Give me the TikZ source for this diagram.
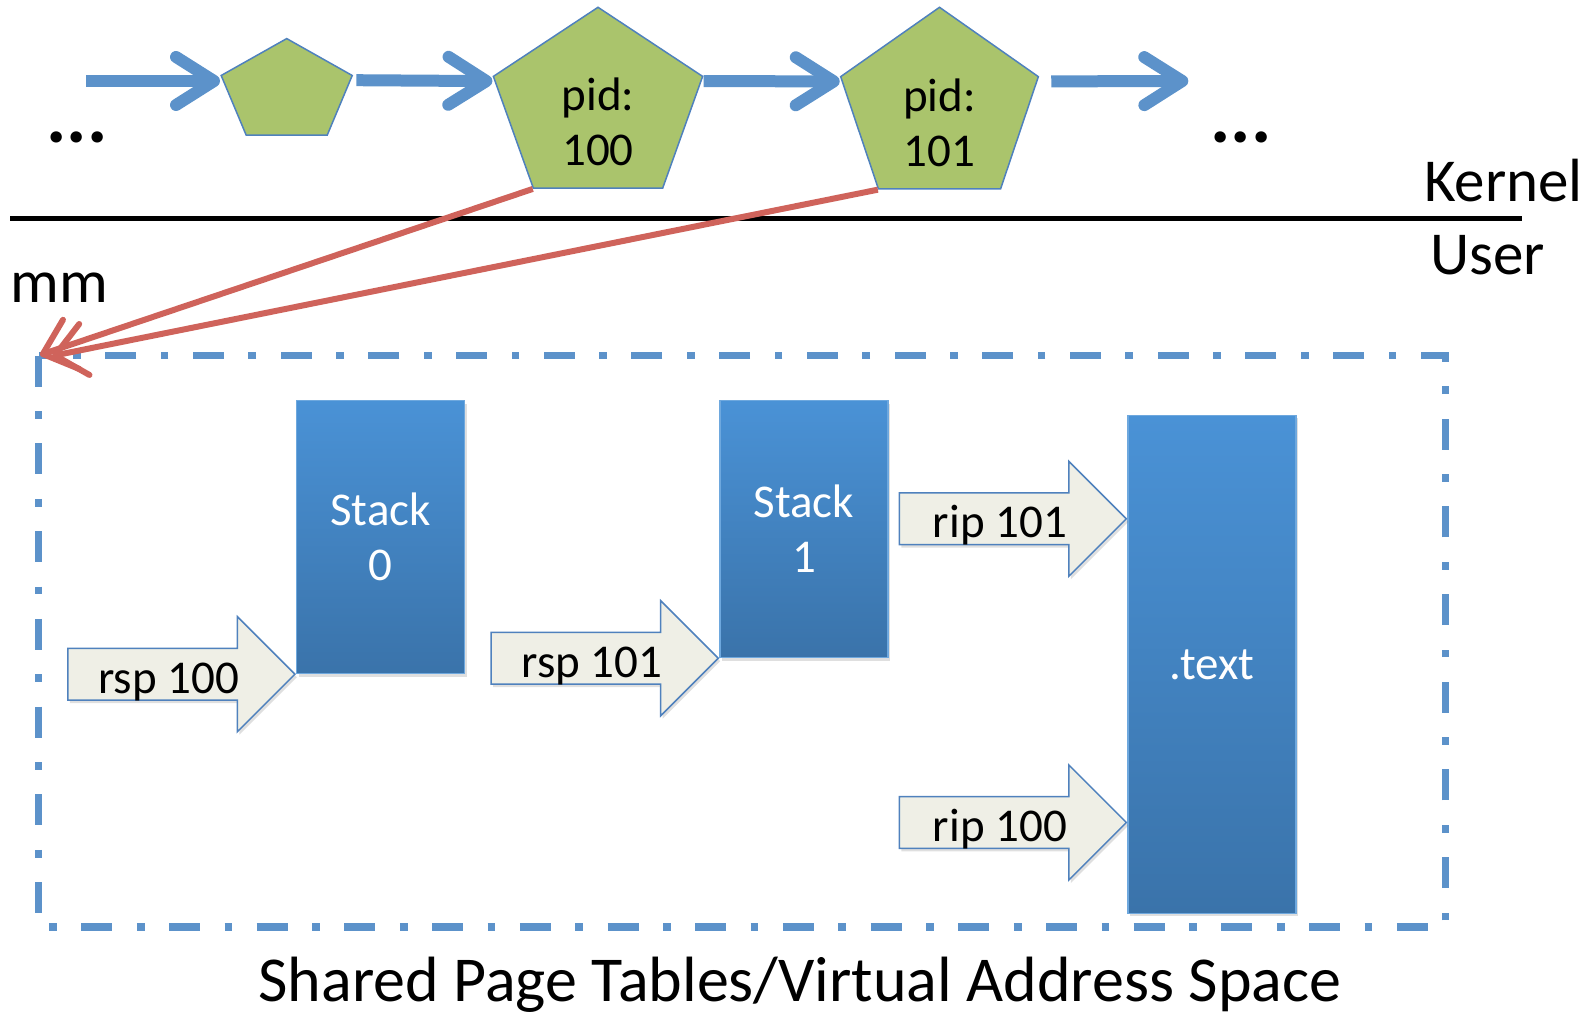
\documentclass[tikz,border=0pt]{standalone}
\usepackage{fontspec}
\setmainfont{Carlito}
\usetikzlibrary{shapes.geometric,shapes.arrows,arrows.meta,shadows}

\definecolor{chainblue}{RGB}{92,146,202}
\definecolor{pentgreen}{RGB}{170,196,108}
\definecolor{edgeblue}{RGB}{79,129,189}
\definecolor{stacktop}{RGB}{74,146,214}
\definecolor{stackbot}{RGB}{58,115,170}
\definecolor{regfill}{RGB}{239,239,230}
\definecolor{mmred}{RGB}{207,99,91}

\begin{document}
\begin{tikzpicture}[
  x=0.5pt, y=-0.5pt,
  pent/.style={regular polygon, regular polygon sides=5, draw=edgeblue, line width=0.75pt, fill=pentgreen, inner sep=0pt},
  seg/.style={rectangle, draw=stacktop!80!white, line width=0.6pt, top color=stacktop, bottom color=stackbot, text=white, font=\fontsize{23.5}{27.5}\selectfont, align=center, inner sep=0pt, anchor=north west, drop shadow={opacity=0.25, shadow xshift=1pt, shadow yshift=-1.5pt}},
  reg/.style={single arrow, draw=edgeblue, line width=0.75pt, fill=regfill, minimum height=113.5pt, minimum width=57.5pt, single arrow head extend=14.5pt, inner sep=2pt, text height=19pt, text depth=0pt, font=\fontsize{23.5}{27.5}\selectfont, anchor=tip, drop shadow={opacity=0.25, shadow xshift=1pt, shadow yshift=-1.5pt}},
  inner/.style={font=\fontsize{23.5}{27.5}\selectfont, align=center, inner sep=0pt},
  big/.style={font=\fontsize{30.5}{36}\selectfont, inner sep=0pt},
  dots/.style={font=\fontsize{38}{40}\selectfont\bfseries, inner sep=0pt},
  chain/.style={draw=chainblue, line width=6pt, -{Straight Barb[length=19pt, width=24pt, round]}},
  mmptr/.style={draw=mmred, line width=3pt, -{Straight Barb[length=15pt, width=26pt, round]}},
  vasline/.style={draw=chainblue, line width=3.65pt, dash pattern=on 15.5pt off 12.25pt on 3.85pt off 12.25pt}
]
\useasboundingbox (0,0) rectangle (1594,1015);

% task list in the kernel
\node[pent, minimum size=53.4pt, xscale=1.29] (p1) at (286.7,92) {};
\node[pent, minimum size=100pt, xscale=1.1] (p2) at (598,107.3) {};
\node[pent, minimum size=100.4pt, xscale=1.035] (p3) at (939.5,107.7) {};
\node[inner] (pid0) at ([yshift=-7.5pt]p2.center) {pid:\\100};
\node[inner] (pid1) at ([yshift=-7.5pt]p3.center) {pid:\\101};

\coordinate (chainin) at (86.4,81);
\coordinate (chainout) at (1188.3,81);
\draw[chain] (chainin) -- (chainin -| p1.corner 2);
\draw[chain] ([xshift=1.5pt,yshift=-2.5pt]p1.corner 5) -- ([yshift=-2.5pt]p2.corner 2);
\draw[chain] ([yshift=-2.5pt]p2.corner 5) -- ([yshift=-2.5pt]p3.corner 2);
\draw[chain] ([xshift=6pt,yshift=-2.5pt]p3.corner 5) -- (chainout);

\node[dots] (moreL) at (77,137) {...};
\node[dots] (moreR) at (1241,137.7) {...};

% kernel / user split
\draw[line width=2.5pt] (10,218.3) -- (1521.7,218.3);
\node[big, anchor=base east] (kernel) at (1583,201.7) {Kernel};
\node[big, anchor=base west] (user) at (1430,275) {User};
\node[big, anchor=base west] (mm) at (10,303) {mm};

% shared address space
\draw[vasline] (38.6,355.8) rectangle (1445.6,927);
\coordinate (vasA) at (40,355);
\coordinate (vasB) at (52,356);
\draw[mmptr] (p2.corner 3) -- (vasA);
\draw[mmptr] (p3.corner 3) -- (vasB);

\node[seg, minimum width=84pt, minimum height=136.5pt] (stack0) at (296,400) {Stack\\0};
\node[seg, minimum width=84pt, minimum height=128.5pt] (stack1) at (719.3,400) {Stack\\1};
\node[seg, minimum width=84pt, minimum height=249pt] (textseg) at (1127.4,414.8) {.text};

\node[reg] (rsp0) at (stack0.south west) {rsp 100};
\node[reg] (rsp1) at (stack1.south west) {rsp 101};
\node[reg] (rip1) at ([yshift=-52pt]textseg.north west) {rip 101};
\node[reg] (rip0) at ([yshift=45.75pt]textseg.south west) {rip 100};

\node[big, font=\fontsize{32}{38}\selectfont, anchor=base] (vas) at (800,1001) {Shared Page Tables/Virtual Address Space};
\end{tikzpicture}
\end{document}
